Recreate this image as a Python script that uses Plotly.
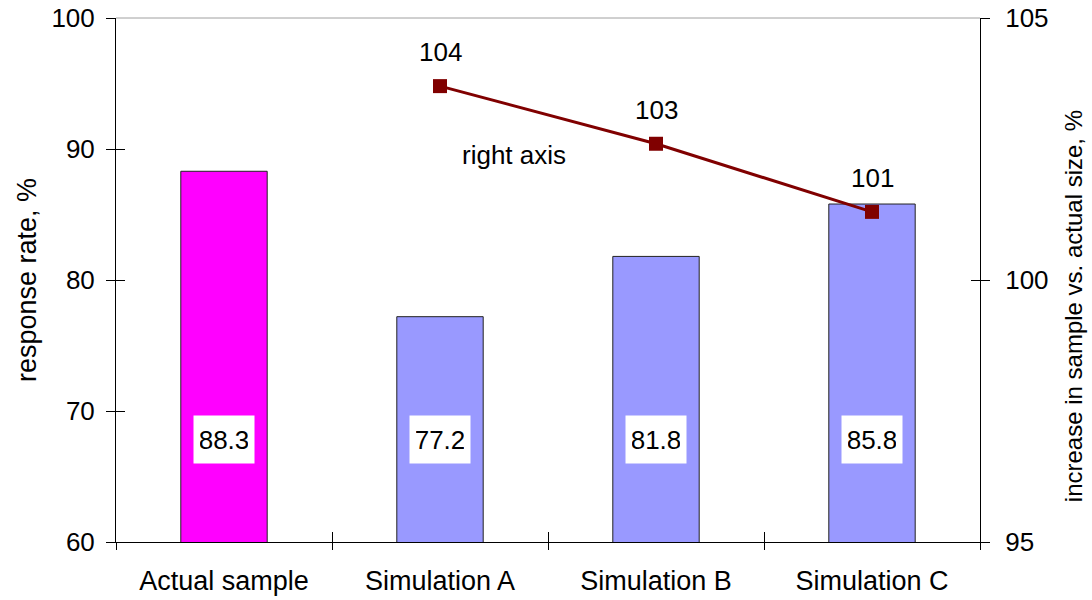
import plotly.graph_objects as go

categories = ["Actual sample", "Simulation A", "Simulation B", "Simulation C"]
response_rate = [88.3, 77.2, 81.8, 85.8]
size_increase = [None, 103.7, 102.6, 101.3]
bar_colors = ["#FF00FF", "#9999FF", "#9999FF", "#9999FF"]
left_ticks = [60, 70, 80, 90, 100]
right_ticks = [95, 100, 105]

FONT = "Liberation Sans, Arial, sans-serif"
FS = 26

fig = go.Figure()

fig.add_trace(go.Bar(
    x=categories, y=response_rate,
    marker=dict(color=bar_colors, line=dict(color="#222222", width=1)),
    showlegend=False, hoverinfo="skip",
))

fig.add_trace(go.Scatter(
    x=categories, y=size_increase, yaxis="y2",
    mode="lines+markers",
    line=dict(color="#800000", width=3),
    marker=dict(symbol="square", size=14, color="#800000"),
    showlegend=False, hoverinfo="skip",
))

# helper empty traces for inside tick overlays
fig.add_trace(go.Scatter(x=[None], y=[None], xaxis="x2", yaxis="y3",
                         showlegend=False, hoverinfo="skip"))
fig.add_trace(go.Scatter(x=[None], y=[None], xaxis="x2", yaxis="y4",
                         showlegend=False, hoverinfo="skip"))

annotations = []
for c, v in zip(categories, response_rate):
    annotations.append(dict(
        x=c, y=67.8, xref="x", yref="y", text=f"{v:.1f}", showarrow=False,
        xanchor="center", yanchor="middle", width=48, height=35,
        bgcolor="white", borderpad=6, font=dict(family=FONT, size=FS, color="black"),
    ))
for c, v in zip(categories, size_increase):
    if v is None:
        continue
    annotations.append(dict(
        x=c, y=v, xref="x", yref="y2", text=f"{v:.0f}", showarrow=False,
        xanchor="center", yanchor="middle",
        yshift=34, font=dict(family=FONT, size=FS, color="black"),
    ))
annotations.append(dict(
    x=0.4606, y=0.7385, xref="paper", yref="paper", text="right axis",
    xanchor="center", yanchor="middle",
    showarrow=False, font=dict(family=FONT, size=FS, color="black"),
))
# right axis title
annotations.append(dict(
    x=1.1076, y=0.45, xref="paper", yref="paper",
    text="increase in sample vs. actual size, %", textangle=-90,
    xanchor="center", yanchor="middle", showarrow=False,
    font=dict(family=FONT, size=24, color="black"),
))

fig.update_layout(
    width=1092, height=600,
    margin=dict(l=116, r=112, t=18, b=58),
    paper_bgcolor="white", plot_bgcolor="white",
    font=dict(family=FONT, size=FS, color="black"),
    bargap=0.6,
    xaxis=dict(
        type="category", range=[-0.5, 3.5], automargin=False,
        showline=True, linecolor="black", linewidth=1,
        ticks="outside", ticklen=7, tickcolor="black", tickson="boundaries",
        showgrid=False, zeroline=False, ticklabelstandoff=15,
        ticklabeloverflow="allow", tickfont=dict(size=27),
    ),
    xaxis2=dict(
        overlaying="x", anchor="y", range=[-0.5, 3.5], automargin=False,
        tickvals=[-0.5, 0.5, 1.5, 2.5, 3.5],
        ticks="inside", ticklen=10, tickcolor="black",
        showticklabels=False, showgrid=False, zeroline=False, showline=False,
    ),
    yaxis=dict(
        range=[60, 100], tickvals=left_ticks, automargin=False,
        showline=True, linecolor="black", linewidth=1,
        ticks="outside", ticklen=9, tickcolor="black",
        showgrid=False, zeroline=False, ticklabelstandoff=6,
        ticklabeloverflow="allow",
        title=dict(text="response rate, %", standoff=6, font=dict(size=27)),
    ),
    yaxis2=dict(
        overlaying="y", side="right", anchor="x", automargin=False,
        range=[95, 105], tickvals=right_ticks,
        showline=True, linecolor="black", linewidth=1,
        ticks="outside", ticklen=9, tickcolor="black",
        showgrid=False, zeroline=False, ticklabelstandoff=10,
        ticklabeloverflow="allow",
    ),
    yaxis3=dict(
        overlaying="y", side="left", anchor="x2", automargin=False,
        range=[60, 100], tickvals=left_ticks,
        ticks="inside", ticklen=9, tickcolor="black",
        showticklabels=False, showgrid=False, zeroline=False, showline=False,
    ),
    yaxis4=dict(
        overlaying="y", side="right", anchor="x2", automargin=False,
        range=[95, 105], tickvals=right_ticks,
        ticks="inside", ticklen=9, tickcolor="black",
        showticklabels=False, showgrid=False, zeroline=False, showline=False,
    ),
    shapes=[dict(type="line", xref="paper", yref="paper", x0=0, x1=1, y0=1, y1=1,
                 line=dict(color="#A0A0A0", width=1))],
    annotations=annotations,
)

fig.write_html("out.html",
               config={"displayModeBar": False},
               post_script="document.body.style.margin='0';document.body.style.overflow='hidden';")
